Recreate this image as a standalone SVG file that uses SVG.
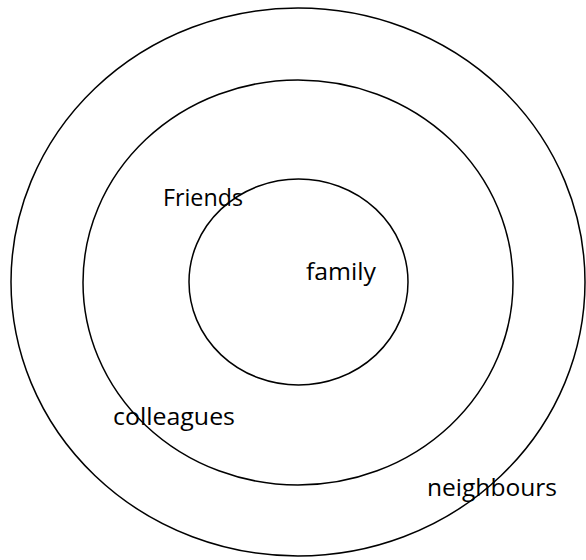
<svg xmlns="http://www.w3.org/2000/svg" width="586" height="560" viewBox="0 0 586 560">
<style>
.ring{fill:none;stroke:#000;stroke-width:1.5}
.lbl{font-family:"Open Sans","Noto Sans",sans-serif;font-size:23px;fill:#000}
</style>
<rect width="586" height="560" fill="#fff"/>
<g id="outer"><ellipse class="ring" cx="298" cy="282" rx="287" ry="274"/><text class="lbl" x="427" y="496" textLength="130" lengthAdjust="spacingAndGlyphs">neighbours</text></g>
<g id="middle"><ellipse class="ring" cx="298" cy="282.5" rx="215" ry="202.5"/><text class="lbl" x="113" y="425" textLength="122" lengthAdjust="spacingAndGlyphs">colleagues</text></g>
<g id="friends"><text class="lbl" x="163" y="206" textLength="80" lengthAdjust="spacingAndGlyphs">Friends</text></g>
<g id="inner"><ellipse class="ring" cx="298.5" cy="282" rx="109.5" ry="103"/><text class="lbl" x="306" y="280" textLength="70" lengthAdjust="spacingAndGlyphs">family</text></g>
<g id="connectors"/>
</svg>
